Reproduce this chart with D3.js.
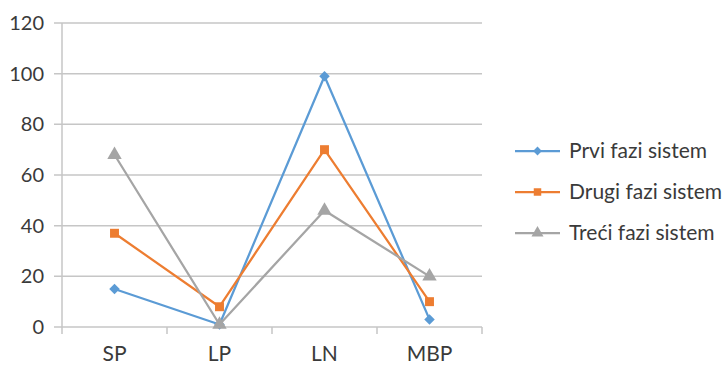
<!DOCTYPE html>
<html><head><meta charset="utf-8">
<script src="https://cdn.jsdelivr.net/npm/d3@7"></script>
<style>html,body{margin:0;padding:0;background:#fff;}svg{display:block;}</style>
</head><body>
<svg id="c" width="724" height="367"></svg>
<script>
const categories = ["SP", "LP", "LN", "MBP"];
const seriesNames = ["Prvi fazi sistem", "Drugi fazi sistem", "Treći fazi sistem"];
const prvi = [15, 1, 99, 3];
const drugi = [37, 8, 70, 10];
const treci = [68, 1, 46, 20];
const yTicks = [0, 20, 40, 60, 80, 100, 120];
const colors = ["#5B9BD5", "#ED7D31", "#A5A5A5"];
const symbols = [d3.symbolSquare, d3.symbolSquare, d3.symbolTriangle];
const symRot = [45, 0, 0];
const seriesData = [prvi, drugi, treci];

const svg = d3.select("#c");
const font = "Lato, 'Open Sans', sans-serif";
const mLeft = 62, mRight = 482, mTop = 23, mBottom = 327;

const x = d3.scaleBand().domain(categories).range([mLeft, mRight]);
const y = d3.scaleLinear().domain([0, 120]).range([mBottom, mTop]);

// gridlines
svg.append("g").selectAll("line").data(yTicks).join("line")
  .attr("x1", mLeft - 8).attr("x2", mRight)
  .attr("y1", d => y(d)).attr("y2", d => y(d))
  .attr("stroke", "#c6c6c6").attr("stroke-width", 1.5);

// y axis line
svg.append("line").attr("x1", mLeft).attr("x2", mLeft).attr("y1", mTop).attr("y2", mBottom)
  .attr("stroke", "#c6c6c6").attr("stroke-width", 1.5);

// y labels
svg.append("g").selectAll("text").data(yTicks).join("text")
  .attr("x", 44).attr("y", d => y(d)).attr("dy", "0.35em")
  .attr("text-anchor", "end").attr("font-family", font).attr("font-size", 20)
  .attr("fill", "#3a3a3a").text(d => d);

// x ticks
const xTickPos = categories.map(c => x(c)).concat([mRight]);
svg.append("g").selectAll("line").data(xTickPos).join("line")
  .attr("x1", d => d).attr("x2", d => d).attr("y1", mBottom).attr("y2", mBottom + 7)
  .attr("stroke", "#c6c6c6").attr("stroke-width", 1.5);

// x labels
svg.append("g").selectAll("text").data(categories).join("text")
  .attr("x", d => x(d) + x.bandwidth() / 2).attr("y", 361)
  .attr("text-anchor", "middle").attr("font-family", font).attr("font-size", 21)
  .attr("fill", "#3a3a3a").text(d => d);

const line = d3.line().x((d, i) => x(categories[i]) + x.bandwidth() / 2).y(d => y(d));
const symSizes = [55, 80, 90];

seriesData.forEach((vals, si) => {
  svg.append("path").datum(vals).attr("d", line).attr("fill", "none")
    .attr("stroke", colors[si]).attr("stroke-width", 2.25).attr("stroke-linejoin", "round");
  svg.append("g").selectAll("path").data(vals).join("path")
    .attr("transform", (d, i) => `translate(${x(categories[i]) + x.bandwidth() / 2},${y(d)}) rotate(${symRot[si]})`)
    .attr("d", d3.symbol().type(symbols[si]).size(symSizes[si]))
    .attr("fill", colors[si]);
});

// legend
const legY = [151, 192, 233];
seriesNames.forEach((name, i) => {
  const g = svg.append("g");
  g.append("line").attr("x1", 515).attr("x2", 560).attr("y1", legY[i]).attr("y2", legY[i])
    .attr("stroke", colors[i]).attr("stroke-width", 2.25);
  g.append("path").attr("transform", `translate(537.5,${legY[i]}) rotate(${symRot[i]})`)
    .attr("d", d3.symbol().type(symbols[i]).size(symSizes[i] * 0.7)).attr("fill", colors[i]);
  g.append("text").attr("x", 569).attr("y", legY[i]).attr("dy", "0.35em")
    .attr("font-family", font).attr("font-size", 21).attr("fill", "#3a3a3a").text(name);
});
</script>
</body></html>
